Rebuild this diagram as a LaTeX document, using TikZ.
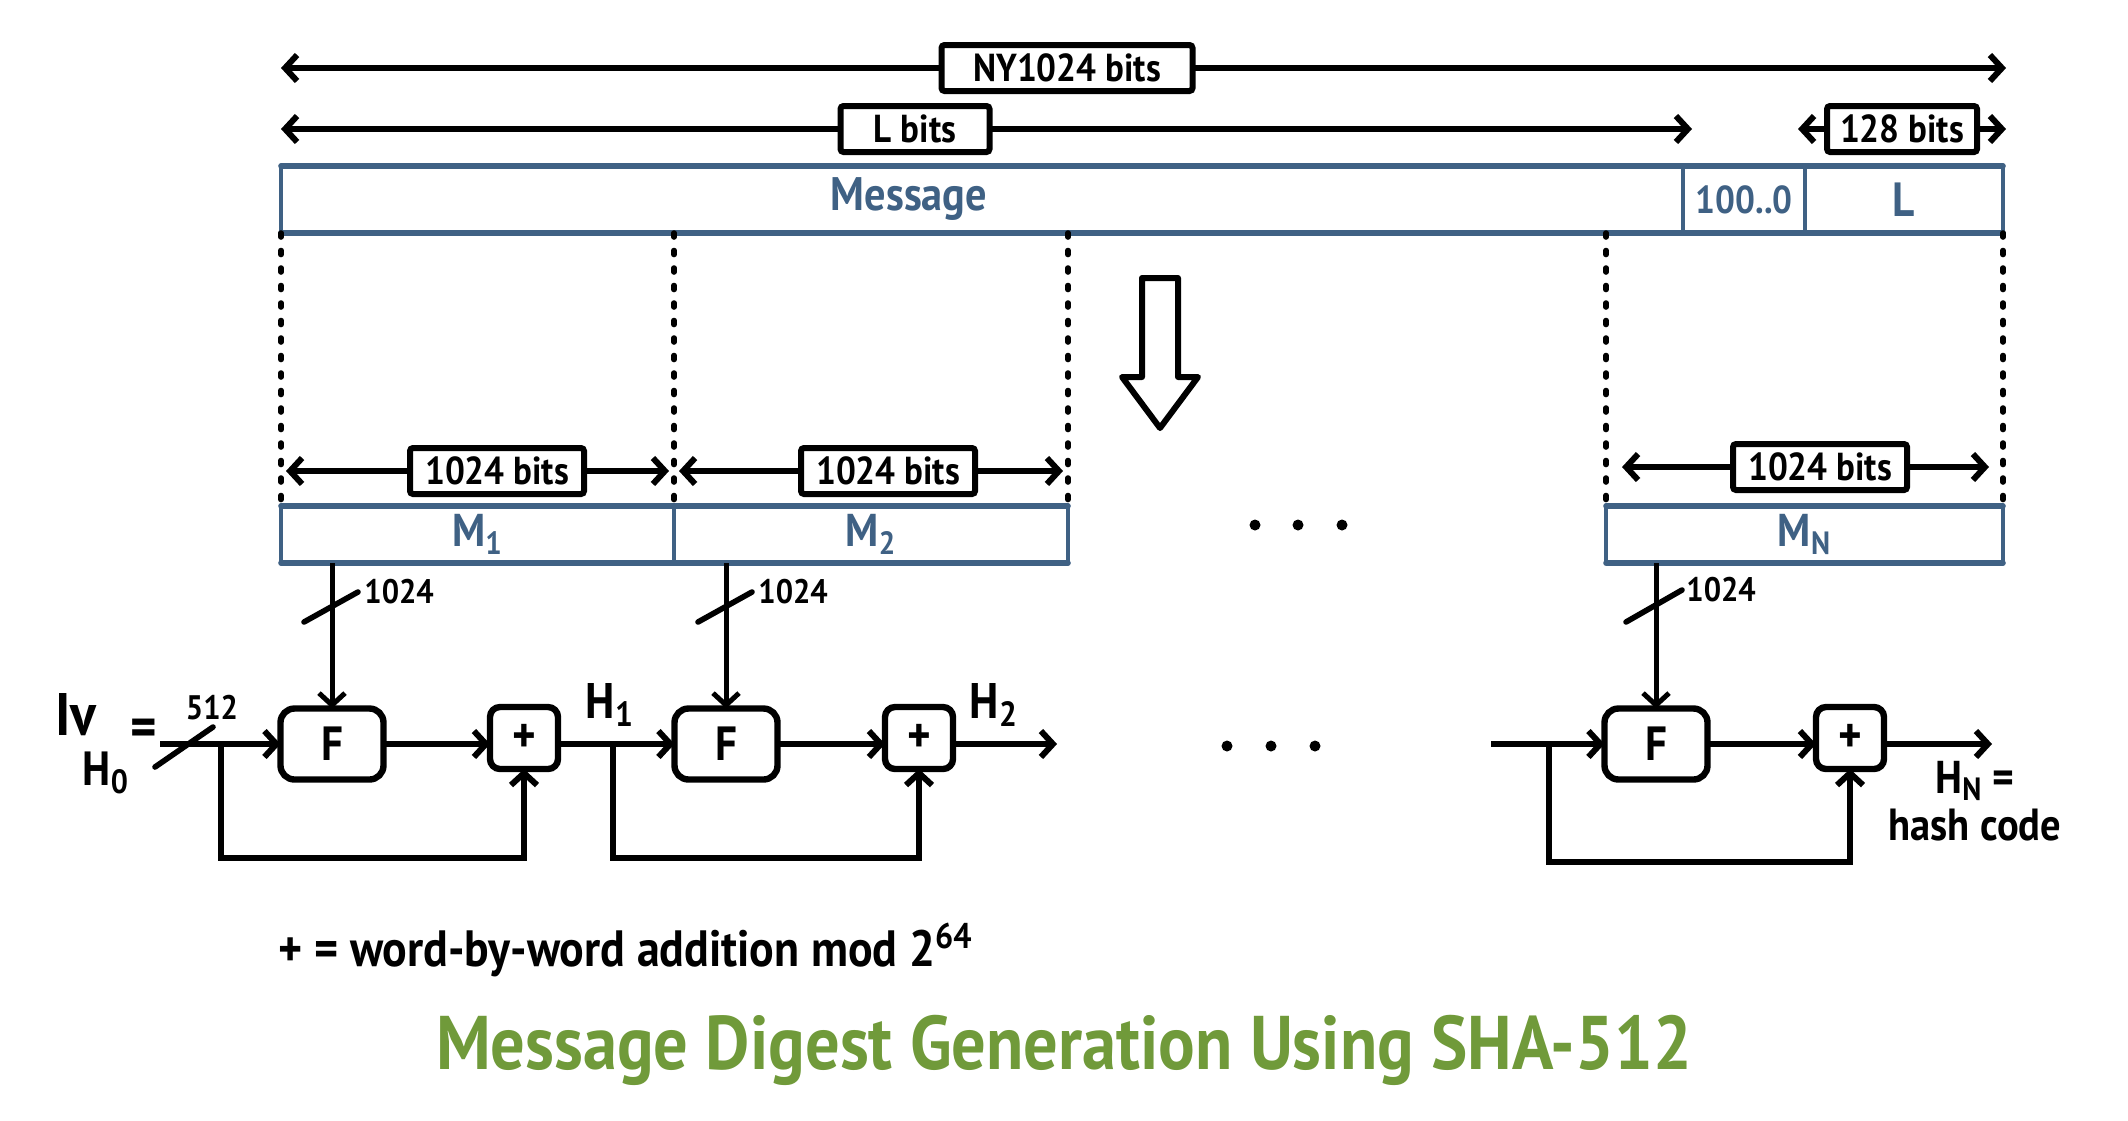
\documentclass[tikz,border=0pt]{standalone}
\usepackage{fontspec}
\setmainfont{PT Sans}[FakeStretch=0.9]
\usetikzlibrary{arrows.meta}
\definecolor{barblue}{HTML}{3F6184}
\definecolor{titlegreen}{HTML}{709A3A}
\newcommand\myfs[1]{\fontsize{#1}{#1}\selectfont\bfseries}
\begin{document}
\begin{tikzpicture}[x=0.5pt,y=-0.5pt,
  dim/.style={line width=3pt,{Straight Barb[length=6pt,width=13pt]}-{Straight Barb[length=6pt,width=13pt]}},
  lbl/.style={draw,line width=3pt,fill=white,rounded corners=1.5pt,inner sep=0pt,minimum height=23pt,font=\myfs{19.5}},
  seg/.style={draw=barblue,line width=1.8pt,inner sep=0pt,outer sep=0pt,text=barblue,font=\myfs{23}},
  barline/.style={draw=barblue,line width=2.8pt,line cap=round},
  blk/.style={draw,line width=3.2pt,fill=white,inner sep=0pt,outer sep=0pt},
  fbox/.style={blk,rounded corners=7pt,minimum width=51.5pt,minimum height=35.5pt,font=\myfs{24}},
  pbox/.style={blk,rounded corners=5pt,minimum width=34pt,minimum height=31pt,font=\myfs{25}},
  conn/.style={line width=3pt},
  vin/.style={line width=2.5pt},
  tip/.style={-{Straight Barb[length=6pt,width=13pt]}},
  dotline/.style={line width=2.8pt,dash pattern=on 2pt off 6.75pt,line cap=round},
  slash/.style={line width=2.8pt,line cap=round},
  txt/.style={inner sep=0pt,font=\myfs{21}},
  small/.style={inner sep=0pt,font=\myfs{17}}]
\useasboundingbox (0,0) rectangle (2128,1120);

% top dimension arrows
\coordinate (nyA) at (281,68); \coordinate (nyB) at (2006,68);
\draw[dim] (nyA) -- (nyB);
\node[lbl,minimum width=125.5pt] (ny) at (1067,68) {NY1024 bits};
\coordinate (lA) at (281,129); \coordinate (lB) at (1692,129);
\draw[dim] (lA) -- (lB);
\node[lbl,minimum width=74.5pt] (lbits) at (915,129) {L bits};
\coordinate (cA) at (1798,129); \coordinate (cB) at (2006,129);
\draw[dim] (cA) -- (cB);
\node[lbl,minimum width=75pt] (cbits) at (1902,129) {128 bits};

% message bar
\node[seg,minimum width=701pt,minimum height=33.5pt] (msg) at (982,199.5) {};
\node[seg,minimum width=61pt,minimum height=33.5pt,font=\myfs{19.5}] (pad) at (1744,199.5) {100..0};
\node[seg,minimum width=99pt,minimum height=33.5pt,font=\myfs{24}] (len) at (1904,199.5) {L};
\draw[barline] (msg.north west) -- (len.north east);
\draw[barline] (msg.south west) -- (len.south east);
\node[txt,text=barblue,font=\myfs{23.5}] (msgtxt) at (909,199.5) {Message};

% blocks
\node[seg,minimum width=196.5pt,minimum height=28.5pt] (M1) at (477.5,534.5) {M\textsubscript{1}};
\node[seg,minimum width=197pt,minimum height=28.5pt] (M2) at (871,534.5) {M\textsubscript{2}};
\node[seg,minimum width=198.5pt,minimum height=28.5pt] (MN) at (1804.5,534.5) {M\textsubscript{N}};
\draw[barline] (M1.north west) -- (M2.north east);
\draw[barline] (M1.south west) -- (M2.south east);
\draw[barline] (MN.north west) -- (MN.north east);
\draw[barline] (MN.south west) -- (MN.south east);

% dotted guides
\draw[dotline] (msg.south west) -- (M1.north west);
\draw[dotline] (M1.north east |- msg.south) -- (M1.north east);
\draw[dotline] (M2.north east |- msg.south) -- (M2.north east);
\draw[dotline] (MN.north west |- msg.south) -- (MN.north west);
\draw[dotline] (len.south east) -- (MN.north east);

% 1024 bits dimensions
\coordinate (d1a) at (286,471); \coordinate (d1b) at (669,471);
\draw[dim] (d1a) -- (d1b);
\node[lbl,minimum width=87pt] (b1) at (497,471) {1024 bits};
\coordinate (d2a) at (679,471); \coordinate (d2b) at (1063,471);
\draw[dim] (d2a) -- (d2b);
\node[lbl,minimum width=87pt] (b2) at (888,471) {1024 bits};
\coordinate (d3a) at (1622,467); \coordinate (d3b) at (1989,467);
\draw[dim] (d3a) -- (d3b);
\node[lbl,minimum width=87pt] (b3) at (1820,467) {1024 bits};

% hollow arrow
\draw[line width=3pt,line join=round] (1142,278) -- (1178,278) -- (1178,377) -- (1198,377) -- (1160,428) -- (1122,377) -- (1142,377) -- cycle;

% dots
\foreach \x in {1255,1298,1342} \fill (\x,525) circle (5.5);
\foreach \x in {1227,1271,1315} \fill (\x,746) circle (5.5);

% compression blocks
\node[fbox] (F1) at (332,744) {F};
\node[fbox] (F2) at (726,744) {F};
\node[fbox] (FN) at (1656,744) {F};
\node[pbox] (P1) at (524,738) {+};
\node[pbox] (P2) at (919,738) {+};
\node[pbox] (PN) at (1850,738) {+};

% message inputs
\draw[vin,tip] (F1.north |- M1.south) -- (F1.north);
\draw[vin,tip] (F2.north |- M2.south) -- (F2.north);
\draw[vin,tip] (FN.north |- MN.south) -- (FN.north);
\draw[slash] (304,622) -- (358,592);
\draw[slash] (698,622) -- (752,592);
\draw[slash] (1626,622) -- (1682,590);
\node[small,anchor=west] (w1) at (364,592) {1024};
\node[small,anchor=west] (w2) at (758,592) {1024};
\node[small,anchor=west] (w3) at (1686,590) {1024};

% stage 1
\coordinate (in1) at (160,744);
\coordinate (br1) at (221,744);
\draw[conn,tip] (in1) -- (F1.west);
\draw[slash] (155,767) -- (213,727);
\draw[conn,tip] (F1.east) -- (F1.east -| P1.west);
\draw[conn,tip] (br1) -- ++(0,114) -| (P1.south);
\node[txt,font=\myfs{30}] (iv) at (76,715) {Iv};
\node[txt,font=\myfs{28}] (eq) at (144,733) {=};
\node[txt,font=\myfs{17}] (n512) at (212,708) {512};
\node[txt,font=\myfs{24}] (h0) at (106,773) {H\textsubscript{0}};

% stage 2
\coordinate (br2) at (613,744);
\draw[conn,tip] (P1.east |- F2.west) -- (F2.west);
\draw[conn,tip] (F2.east) -- (F2.east -| P2.west);
\draw[conn,tip] (br2) -- ++(0,114) -| (P2.south);
\coordinate (out2) at (1057,744);
\draw[conn,tip] (P2.east |- out2) -- (out2);
\node[txt,font=\myfs{25}] (h1) at (610,705) {H\textsubscript{1}};
\node[txt,font=\myfs{25}] (h2) at (994,705) {H\textsubscript{2}};

% stage N
\coordinate (inN) at (1491,744);
\coordinate (brN) at (1549,744);
\draw[conn,tip] (inN) -- (FN.west);
\draw[conn,tip] (FN.east) -- (FN.east -| PN.west);
\draw[conn,tip] (brN) -- ++(0,118) -| (PN.south);
\coordinate (outN) at (1992,744);
\draw[conn,tip] (PN.east |- outN) -- (outN);
\node[txt,font=\myfs{23}] (hn) at (1975,781) {H\textsubscript{N} =};
\node[txt,font=\myfs{22.5}] (hash) at (1975,825) {hash code};

% footnote and title
\node[txt,anchor=west,font=\myfs{25.5}] (note) at (278,950) {+ = word-by-word addition mod 2\textsuperscript{64}};
\node[txt,text=titlegreen,font=\myfs{38}] (title) at (1064,1050) {Message Digest Generation Using SHA-512};
\end{tikzpicture}
\end{document}
